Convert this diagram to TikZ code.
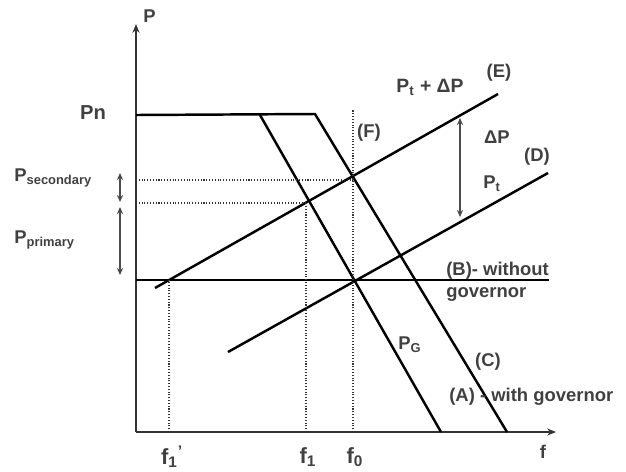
\documentclass[tikz,border=0pt]{standalone}
\usepackage{fontspec}
\setmainfont{Liberation Sans}
\usetikzlibrary{arrows.meta}
\definecolor{txtgray}{HTML}{404040}
\begin{document}
\begin{tikzpicture}[x=0.02cm,y=-0.02cm,>={Stealth[length=5pt,width=4pt]},
        curve/.style={line width=1.4pt,black},
        guide/.style={densely dotted,line width=0.6pt,black!80},
        span/.style={<->,line width=0.6pt,black!70,>={Stealth[length=4pt,width=3.5pt]}},
        lbl/.style={text=txtgray,font=\bfseries\fontsize{10.5}{12.5}\selectfont,inner sep=0pt},
        big/.style={lbl,font=\bfseries\fontsize{12.5}{14}\selectfont}]
        \useasboundingbox (0,0) rectangle (626,471);
        % axes
        \coordinate (O) at (136,432);
        \coordinate (Ptop) at (136,24);
        \coordinate (fend) at (556,432);
        \draw[->,line width=1.1pt,black!80] (O)--(Ptop);
        \draw[->,line width=1.1pt,black!80] (O)--(fend);
        \node[lbl,anchor=south west] (Plab) at (143,23) {P};
        \node[lbl] (flab) at (543,452) {f};
        % curves
        \coordinate (Pn) at (136,115);
        \coordinate (knee) at (315,114);
        \coordinate (Cend) at (507,432);
        \coordinate (Atop) at (260,115);
        \coordinate (Aend) at (441,432);
        \coordinate (Bstart) at (136,280);
        \coordinate (Bend) at (549,280);
        \coordinate (Estart) at (155,288);
        \coordinate (Eend) at (498,94);
        \coordinate (Dstart) at (228,352);
        \coordinate (Dend) at (548,173);
        \draw[curve] (Pn)--(knee)--(Cend);
        \draw[curve] (Atop)--(Aend);
        \draw[curve] (Bstart)--(Bend);
        \draw[curve] (Estart)--(Eend);
        \draw[curve] (Dstart)--(Dend);
        % dotted guides
        \coordinate (f0) at (353,432);
        \coordinate (f0top) at (353,110);
        \coordinate (f1) at (306,432);
        \coordinate (f1top) at (306,203);
        \coordinate (f1p) at (169,432);
        \coordinate (f1ptop) at (169,280);
        \coordinate (Psec) at (136,180);
        \coordinate (Pprim) at (136,203);
        \draw[guide] (f0)--(f0top);
        \draw[guide] (f1)--(f1top);
        \draw[guide] (f1p)--(f1ptop);
        \draw[guide] (Psec)--(353,180);
        \draw[guide] (Pprim)--(f1top);
        % spans
        \coordinate (s1) at (120,173);
        \coordinate (s2) at (120,202);
        \coordinate (s3) at (120,207);
        \coordinate (s4) at (120,275);
        \coordinate (dp1) at (460,118);
        \coordinate (dp2) at (460,217);
        \draw[span] (s1)--(s2);
        \draw[span] (s3)--(s4);
        \draw[span] (dp1)--(dp2);
        % labels
        \node[lbl,font=\bfseries\fontsize{11.5}{13}\selectfont] (PnLab) at (93,113) {Pn};
        \node[lbl,anchor=west] (secLab) at (14,178) {P\textsubscript{secondary}};
        \node[lbl,anchor=west] (primLab) at (14,240) {P\textsubscript{primary}};
        \node[lbl,font=\bfseries\fontsize{11}{13}\selectfont] (PtdP) at (430,87) {P\textsubscript{t} + ΔP};
        \node[lbl] (E) at (499,73) {(E)};
        \node[lbl] (F) at (369,133) {(F)};
        \node[lbl] (dP) at (497,137) {ΔP};
        \node[lbl] (D) at (537,157) {(D)};
        \node[lbl] (Pt) at (492,184) {P\textsubscript{t}};
        \node[lbl,anchor=west,align=left] (B) at (446,282) {(B)- without\\governor};
        \node[lbl] (PG) at (410,345) {P\textsubscript{G}};
        \node[lbl] (C) at (488,362) {(C)};
        \node[lbl,anchor=west] (A) at (449,397) {(A) - with governor};
        \node[big] (f1pLab) at (172,457) {f\textsubscript{1}\textsuperscript{'}};
        \node[big] (f1Lab) at (308,457) {f\textsubscript{1}};
        \node[big] (f0Lab) at (355,457) {f\textsubscript{0}};
\end{tikzpicture}
\end{document}
